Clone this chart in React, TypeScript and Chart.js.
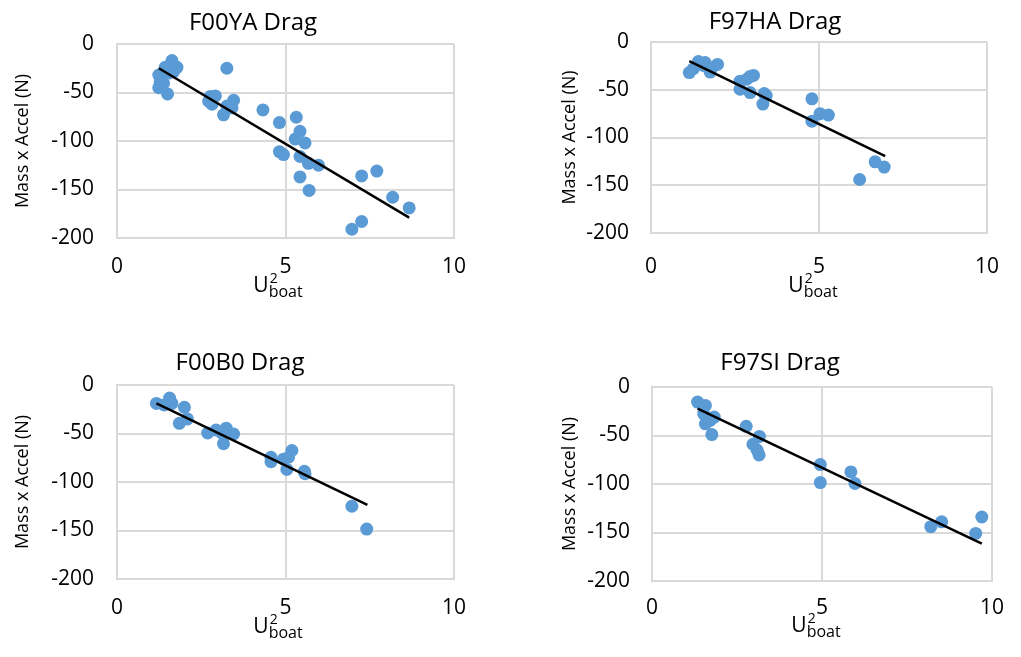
import React, { useEffect, useRef } from "react";
import { Chart, registerables } from "chart.js";

Chart.register(...registerables);

const FONT = "'Open Sans', sans-serif";

// ---------- data ----------
const yTickValues = [0, -50, -100, -150, -200];
const xTickValues = [0, 5, 10];

const titles = ["F00YA Drag", "F97HA Drag", "F00B0 Drag", "F97SI Drag"];
const yAxisTitle = "Mass x Accel (N)";
const xAxisMain = "U";
const xAxisSup = "2";
const xAxisSub = "boat";

const f00yaX = [1.63, 1.78, 1.43, 1.24, 1.28, 1.24, 1.5, 1.68, 1.53, 1.38, 3.26, 2.77, 2.92, 2.82, 2.72, 3.46, 3.41, 3.26, 3.16, 4.33, 4.82, 5.32, 5.43, 5.29, 5.58, 4.82, 4.94, 5.43, 5.68, 5.98, 5.43, 5.7, 7.26, 7.71, 8.18, 8.67, 7.26, 6.97];
const f00yaY = [-17, -24, -24, -32, -39, -45, -51.5, -28.5, -30, -40.5, -25, -54, -53.5, -62, -59, -58, -66, -64, -73, -68, -81, -75.5, -90, -98, -102, -111, -114, -116, -123, -125, -137, -151, -136, -131, -158, -169, -183, -191];
const f00yaTrendX = [1.24, 8.67];
const f00yaTrendY = [-25, -179];

const f97haX = [1.14, 1.26, 1.41, 1.61, 1.76, 1.81, 1.98, 1.56, 2.65, 2.65, 2.95, 2.95, 3.05, 2.85, 3.37, 3.43, 3.33, 4.79, 4.79, 5.03, 5.28, 6.67, 6.94, 6.21];
const f97haY = [-32, -28, -20.5, -21.5, -31.5, -27, -23.5, -24.5, -41, -49.5, -53, -36, -35, -39, -54, -56, -65, -59.5, -83, -75, -76.5, -125.5, -131, -144];
const f97haTrendX = [1.14, 6.97];
const f97haTrendY = [-20, -119.5];

const f00b0X = [1.17, 1.4, 1.56, 1.63, 2.0, 2.09, 1.85, 2.69, 2.94, 3.11, 3.24, 3.46, 3.16, 4.57, 4.57, 4.94, 5.04, 5.09, 5.19, 5.56, 5.58, 6.97, 7.41];
const f00b0Y = [-19, -20.5, -13.5, -19, -23, -35, -39.5, -49.5, -46.5, -49.5, -44.5, -50.5, -60.5, -74.5, -79, -76.5, -87, -74.5, -67.5, -89, -91.5, -125, -148.5];
const f00b0TrendX = [1.17, 7.43];
const f00b0TrendY = [-19, -123.5];

const f97siX = [1.34, 1.57, 1.52, 1.83, 1.71, 1.57, 1.76, 2.77, 3.16, 2.97, 3.09, 3.15, 4.95, 4.95, 5.85, 5.97, 8.2, 8.52, 9.52, 9.7];
const f97siY = [-15.5, -19, -27.5, -31, -34.5, -38, -49, -40.5, -51, -59, -65, -70, -80, -98.5, -87.5, -99.5, -144, -139, -151, -134];
const f97siTrendX = [1.34, 9.7];
const f97siTrendY = [-22.3, -161.5];

const seriesX = [f00yaX, f97haX, f00b0X, f97siX];
const seriesY = [f00yaY, f97haY, f00b0Y, f97siY];
const trendXs = [f00yaTrendX, f97haTrendX, f00b0TrendX, f97siTrendX];
const trendYs = [f00yaTrendY, f97haTrendY, f00b0TrendY, f97siTrendY];

// ---------- layout (pixels) ----------
type Layout = {
  left: number; top: number; w: number; h: number;
  aL: number; aT: number; aR: number; aB: number;
  titleX: number; titleBase: number;
  yTitleX: number; yTickPad: number; xTickPad: number;
  xTitleX: number; xTitleBase: number;
};

const layouts: Layout[] = [
  { left: 0, top: 0, w: 510, h: 330, aL: 117, aT: 44, aR: 454, aB: 238, titleX: 253, titleBase: 30, yTitleX: 23, yTickPad: 23, xTickPad: 16, xTitleX: 278, xTitleBase: 292 },
  { left: 510, top: 0, w: 511, h: 330, aL: 141, aT: 42, aR: 477, aB: 233, titleX: 265, titleBase: 29, yTitleX: 60, yTickPad: 22, xTickPad: 21, xTitleX: 303, xTitleBase: 292 },
  { left: 0, top: 330, w: 510, h: 327, aL: 117, aT: 55, aR: 454, aB: 249, titleX: 240, titleBase: 40, yTitleX: 23, yTickPad: 23, xTickPad: 16, xTitleX: 278, xTitleBase: 303 },
  { left: 510, top: 330, w: 511, h: 327, aL: 142, aT: 57, aR: 482, aB: 251, titleX: 270, titleBase: 40, yTitleX: 60, yTickPad: 22, xTickPad: 14, xTitleX: 306, xTitleBase: 302 },
];

const textPlugin = {
  id: "panelText",
  afterDraw(chart: any, _args: any, opts: any) {
    const ctx = chart.ctx as CanvasRenderingContext2D;
    ctx.save();
    ctx.fillStyle = "#000";
    ctx.textBaseline = "alphabetic";
    ctx.textAlign = "center";
    ctx.font = `24px ${FONT}`;
    ctx.fillText(opts.title, opts.titleX, opts.titleBase);

    ctx.textAlign = "left";
    ctx.font = `21px ${FONT}`;
    const wU = ctx.measureText(xAxisMain).width;
    ctx.font = `14px ${FONT}`;
    const w2 = ctx.measureText(xAxisSup).width;
    ctx.font = `16px ${FONT}`;
    const wb = ctx.measureText(xAxisSub).width;
    const total = wU + Math.max(w2, wb);
    const x0 = opts.xTitleX - total / 2;
    ctx.font = `21px ${FONT}`;
    ctx.fillText(xAxisMain, x0, opts.xTitleBase);
    ctx.font = `14px ${FONT}`;
    ctx.fillText(xAxisSup, x0 + wU + 1, opts.xTitleBase - 9);
    ctx.font = `16px ${FONT}`;
    ctx.fillText(xAxisSub, x0 + wU, opts.xTitleBase + 5);
    ctx.restore();
  },
};

function Panel({ idx }: { idx: number }) {
  const ref = useRef<HTMLCanvasElement>(null);
  const L = layouts[idx];
  useEffect(() => {
    if (!ref.current) return;
    const pts = seriesX[idx].map((x, i) => ({ x, y: seriesY[idx][i] }));
    const trend = trendXs[idx].map((x, i) => ({ x, y: trendYs[idx][i] }));
    const gridColor = "#d9d9d9";
    const chart = new Chart(ref.current, {
      type: "scatter",
      data: {
        datasets: [
          {
            data: trend,
            showLine: true,
            borderColor: "#000",
            borderWidth: 2.5,
            pointRadius: 0,
            fill: false,
            order: 0,
          } as any,
          {
            data: pts,
            backgroundColor: "#5b9bd5",
            borderWidth: 0,
            pointRadius: 6.5,
            order: 1,
          },
        ],
      },
      options: {
        responsive: false,
        animation: false,
        layout: { padding: { left: 0, top: L.aT, right: L.w - L.aR, bottom: 0 } },
        plugins: {
          legend: { display: false },
          tooltip: { enabled: false },
          panelText: {
            title: titles[idx],
            titleX: L.titleX,
            titleBase: L.titleBase,
            xTitleX: L.xTitleX,
            xTitleBase: L.xTitleBase,
          },
        } as any,
        scales: {
          x: {
            type: "linear",
            min: 0,
            max: 10,
            afterBuildTicks: (s: any) => {
              s.ticks = xTickValues.map((v) => ({ value: v }));
            },
            afterFit: (s: any) => {
              s.height = L.h - L.aB;
            },
            grid: { color: gridColor, lineWidth: 2, drawTicks: false },
            border: { display: true, color: gridColor, width: 2 },
            ticks: { color: "#000", font: { family: FONT, size: 21 }, padding: L.xTickPad, maxRotation: 0 },
          },
          y: {
            type: "linear",
            min: -200,
            max: 0,
            afterBuildTicks: (s: any) => {
              s.ticks = yTickValues.map((v) => ({ value: v }));
            },
            afterFit: (s: any) => {
              s.width = L.aL;
            },
            grid: { color: gridColor, lineWidth: 2, drawTicks: false },
            border: { display: true, color: gridColor, width: 2 },
            ticks: { color: "#000", font: { family: FONT, size: 21 }, padding: L.yTickPad },
            title: {
              display: true,
              text: yAxisTitle,
              color: "#000",
              font: { family: FONT, size: 18, lineHeight: 1.2 },
              padding: { top: L.yTitleX - 10.8, bottom: 0 },
            },
          },
        },
      } as any,
      plugins: [textPlugin],
    });
    return () => chart.destroy();
  }, [idx]);
  return (
    <canvas
      ref={ref}
      width={L.w}
      height={L.h}
      style={{ position: "absolute", left: L.left, top: L.top, width: L.w, height: L.h }}
    />
  );
}

export default function App() {
  return (
    <div style={{ position: "fixed", left: 0, top: 0, width: 1021, height: 657, background: "#fff" }}>
      {[0, 1, 2, 3].map((i) => (
        <Panel key={i} idx={i} />
      ))}
    </div>
  );
}
